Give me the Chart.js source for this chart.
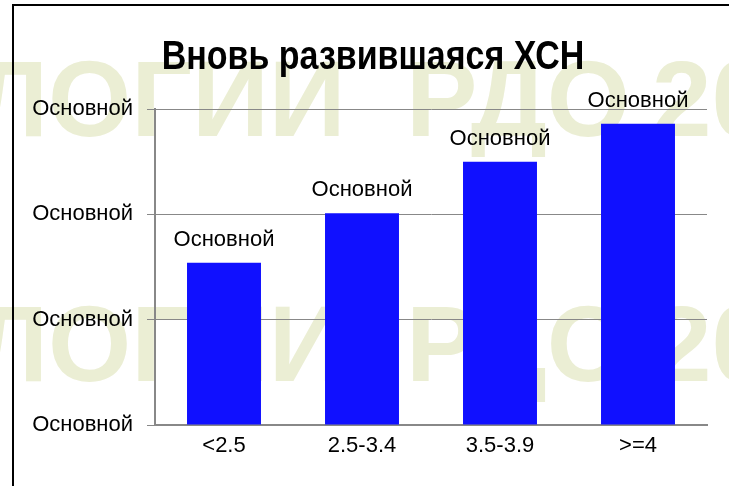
<!DOCTYPE html>
<html>
<head>
<meta charset="utf-8">
<script src="https://cdn.jsdelivr.net/npm/chart.js@4.4.1/dist/chart.umd.min.js"></script>
<style>
  html, body { margin: 0; padding: 0; background: #fff; overflow: hidden; }
  #wrap { position: relative; width: 729px; height: 486px; }
  #frame { position: absolute; left: 12px; top: 4px; width: 900px; height: 700px; border: 2px solid #000; box-sizing: border-box; pointer-events: none; }
  canvas { position: absolute; left: 0; top: 0; }
</style>
</head>
<body>
<div id="wrap">
  <canvas id="c" width="729" height="486"></canvas>
  <div id="frame"></div>
</div>
<script>
const titleText = 'Вновь развившаяся ХСН';
const categories = ['<2.5', '2.5-3.4', '3.5-3.9', '>=4'];
const values = [15.4, 20.1, 25.0, 28.6];
const yTickValues = [0, 10, 20, 30];
const yTickLabel = 'Основной';
const dataLabels = ['Основной', 'Основной', 'Основной', 'Основной'];
const watermarkWords = ['ЛОГИИ', 'РДО', '20'];

const watermarkPlugin = {
  id: 'watermark',
  beforeDraw(chart) {
    const ctx = chart.ctx;
    ctx.save();
    ctx.fillStyle = '#ebeed4';
    ctx.font = 'bold 107px "Liberation Sans", Arial, sans-serif';
    ctx.textBaseline = 'alphabetic';
    ctx.textAlign = 'left';
    const xs = [-27, 406, 652];
    [136, 381].forEach(y => {
      watermarkWords.forEach((w, i) => ctx.fillText(w, xs[i], y));
    });
    ctx.restore();
  }
};

const titlePlugin = {
  id: 'condensedTitle',
  afterDraw(chart) {
    const ctx = chart.ctx;
    ctx.save();
    ctx.fillStyle = '#000';
    ctx.font = 'bold 40px "Liberation Sans", Arial, sans-serif';
    ctx.textAlign = 'center';
    ctx.textBaseline = 'alphabetic';
    ctx.translate(373, 69);
    ctx.scale(0.85, 1);
    ctx.fillText(titleText, 0, 0);
    ctx.restore();
  }
};

const dataLabelPlugin = {
  id: 'dataLabelsCustom',
  afterDatasetsDraw(chart) {
    const ctx = chart.ctx;
    const meta = chart.getDatasetMeta(0);
    ctx.save();
    ctx.fillStyle = '#000';
    ctx.font = '22px "Liberation Sans", Arial, sans-serif';
    ctx.textAlign = 'center';
    ctx.textBaseline = 'alphabetic';
    meta.data.forEach((bar, i) => {
      ctx.fillText(dataLabels[i], bar.x, bar.y - 17);
    });
    ctx.restore();
  }
};

new Chart(document.getElementById('c'), {
  type: 'bar',
  data: {
    labels: categories,
    datasets: [{
      data: values,
      backgroundColor: '#1010ff',
      borderWidth: 0,
      barPercentage: 0.536,
      categoryPercentage: 1.0
    }]
  },
  options: {
    responsive: false,
    animation: false,
    devicePixelRatio: 1,
    layout: { padding: { left: 0, right: 22, top: 109, bottom: 0 } },
    plugins: {
      legend: { display: false },
      tooltip: { enabled: false },
      title: { display: false }
    },
    scales: {
      x: {
        grid: { display: false, drawTicks: false },
        border: { display: true, color: '#888', width: 2 },
        ticks: {
          color: '#000',
          padding: 8,
          font: { family: '"Liberation Sans", Arial, sans-serif', size: 22 }
        },
        afterFit(scale) { scale.height = 61; }
      },
      y: {
        min: 0,
        max: 30,
        afterBuildTicks(scale) { scale.ticks = yTickValues.map(v => ({ value: v })); },
        grid: { color: '#888', lineWidth: 1, tickLength: 8, drawTicks: true },
        border: { display: true, color: '#888', width: 2 },
        ticks: {
          color: '#000',
          padding: 14,
          font: { family: '"Liberation Sans", Arial, sans-serif', size: 22 },
          callback: () => yTickLabel
        },
        afterFit(scale) { scale.width = 155; }
      }
    }
  },
  plugins: [watermarkPlugin, dataLabelPlugin, titlePlugin]
});
</script>
</body>
</html>
